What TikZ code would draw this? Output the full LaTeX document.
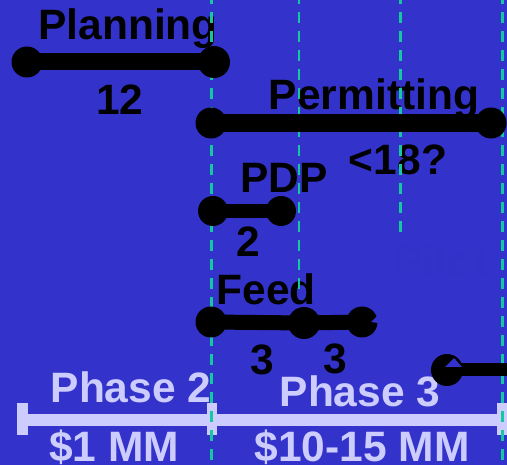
\documentclass[tikz,border=0pt]{standalone}
\usepackage{fontspec}
\setmainfont{Liberation Sans}
\definecolor{bgc}{HTML}{3333CC}
\definecolor{guidec}{HTML}{14C8A0}
\definecolor{lav}{HTML}{CCCCFF}
\definecolor{faint}{HTML}{3232C8}
\begin{document}
\begin{tikzpicture}[x=1pt,y=-1pt,
  lbl/.style={anchor=base, font=\bfseries\fontsize{42.5}{42.5}\selectfont, inner sep=0pt, text=black},
  phl/.style={lbl, text=lav},
  dot/.style={circle, fill=black, inner sep=0pt, minimum size=#1},
  dot/.default=31pt,
  bar/.style={draw=black, line width=#1},
  phasebar/.style={draw=lav, line width=#1},
  guide/.style={draw=guidec, line width=2.8pt, dash pattern=on 11pt off 8pt, dash phase=6.7pt},
  notch/.style={fill=bgc}]
\fill[bgc] (0,0) rectangle (507,465);
\useasboundingbox (0,0) rectangle (507,465);

% texts
\node[lbl] (tplan) at (128,40) {Planning};
\node[lbl] (t12) at (120,115) {12};
\node[lbl] (tperm) at (374,110) {Permitting};
\node[lbl] (t18) at (398,175) {<18?};
\node[lbl] (tpdp) at (284,193) {PDP};
\node[lbl] (t2) at (248,257) {2};
\node[lbl] (tfeed) at (266,305) {Feed};
\node[lbl] (t3a) at (262,375) {3};
\node[lbl] (t3b) at (335,374) {3};
\node[lbl, text=faint] (tpilot) at (441,277) {Pilot};
\node[phl] (tph2) at (131,403) {Phase 2};
\node[phl] (tph3) at (360,407) {Phase 3};
\node[phl] (tm1) at (114,462) {\$1 MM};
\node[phl] (tm2) at (362,462) {\$10-15 MM};

% phase bar
\coordinate (pa) at (22.5,420);
\coordinate (pb) at (212,420);
\coordinate (pc) at (502,420);
\draw[phasebar=12pt] (pa) -- (pc);
\draw[phasebar=11pt] ([yshift=-15pt]pa) -- ([yshift=17pt]pa);
\draw[phasebar=10pt] ([yshift=-15pt]pb) -- ([yshift=17pt]pb);
\draw[phasebar=10pt] ([yshift=-15pt]pc) -- ([yshift=17pt]pc);

% guides
\coordinate (g1t) at (211.5,0);   \coordinate (g1b) at (211.5,465);
\coordinate (g2t) at (299,0);     \coordinate (g2b) at (299,293);
\coordinate (g3t) at (400.5,0);   \coordinate (g3b) at (400.5,232);
\coordinate (g4t) at (502.5,0);   \coordinate (g4b) at (502.5,465);
\draw[guide] (g1t) -- (g1b);
\draw[guide] (g2t) -- (g2b);
\draw[guide] (g3t) -- (g3b);
\draw[guide] (g4t) -- (g4b);

% Planning
\node[dot] (pl1) at (27,62) {};
\node[dot=32pt] (pl2) at (214,62) {};
\draw[bar=17pt] (pl1.center) -- (pl2.center);

% Permitting
\node[dot] (pe1) at (211,123) {};
\node[dot] (pe2) at (491,123) {};
\draw[bar=18pt] (pe1.center) -- (pe2.center);

% PDP
\node[dot=30pt] (pd1) at (213,211) {};
\node[dot=30pt] (pd2) at (281,211) {};
\draw[bar=14pt] (pd1.center) -- (pd2.center);

% Feed
\node[dot] (f1) at (211,322) {};
\node[dot=32pt] (f2) at (304,323) {};
\node[dot] (f3) at (362,322) {};
\draw[bar=15pt] (f1.center) -- (f2.center) -- (f3.center);
\fill[notch] (371,322) -- (378,315) -- (378,323) -- cycle;

% bottom right
\node[dot=32pt] (br) at (447,370) {};
\coordinate (bre) at (507,367);
\draw[bar=13pt] (br.center) -- (br.center -| bre);
\fill[notch] (445,367) -- (454,358) -- (462,367) -- cycle;
\end{tikzpicture}
\end{document}
